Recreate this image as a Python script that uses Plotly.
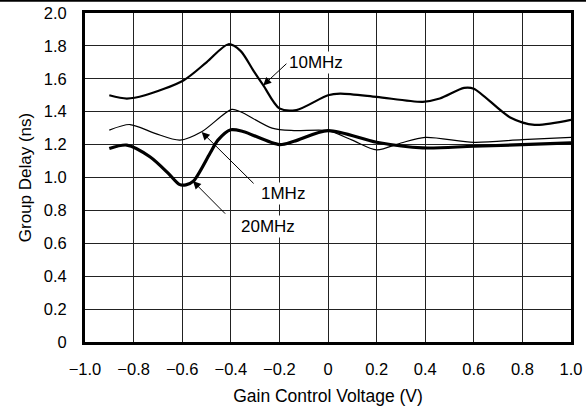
import plotly.graph_objects as go

# ---- data ----
x_10mhz = [-0.9, -0.828, -0.753, -0.595, -0.5, -0.41, -0.36, -0.307, -0.266, -0.2, -0.13, 0.0, 0.05, 0.2, 0.39, 0.46, 0.56, 0.6, 0.75, 0.85, 1.0]
y_10mhz = [1.50, 1.48, 1.50, 1.59, 1.70, 1.81, 1.77, 1.65, 1.56, 1.42, 1.41, 1.50, 1.51, 1.49, 1.46, 1.48, 1.545, 1.54, 1.365, 1.32, 1.35]

x_1mhz = [-0.9, -0.815, -0.712, -0.609, -0.52, -0.396, -0.36, -0.23, -0.14, 0.0, 0.1, 0.2, 0.3, 0.4, 0.6, 0.8, 1.0]
y_1mhz = [1.288, 1.322, 1.268, 1.227, 1.278, 1.414, 1.40, 1.30, 1.285, 1.285, 1.227, 1.168, 1.21, 1.244, 1.214, 1.23, 1.244]

x_20mhz = [-0.9, -0.828, -0.733, -0.657, -0.612, -0.585, -0.554, -0.486, -0.453, -0.4, -0.35, -0.2, -0.14, 0.0, 0.2, 0.39, 0.6, 1.0]
y_20mhz = [1.176, 1.197, 1.126, 1.025, 0.958, 0.955, 0.978, 1.146, 1.227, 1.29, 1.28, 1.20, 1.22, 1.285, 1.214, 1.18, 1.19, 1.21]

x_tickvals = [-1.0, -0.8, -0.6, -0.4, -0.2, 0, 0.2, 0.4, 0.6, 0.8, 1.0]
x_ticktext = ["\u22121.0", "\u22120.8", "\u22120.6", "\u22120.4", "\u22120.2", "0", "0.2", "0.4", "0.6", "0.8", "1.0"]
y_tickvals = [0, 0.2, 0.4, 0.6, 0.8, 1.0, 1.2, 1.4, 1.6, 1.8, 2.0]
y_ticktext = ["0", "0.2", "0.4", "0.6", "0.8", "1.0", "1.2", "1.4", "1.6", "1.8", "2.0"]

# labels: (text, label x, label y, arrow head x, head y, arrow tail x, tail y)
labels = [
    ("10MHz", -0.049, 1.697, -0.267, 1.56, -0.165, 1.70),
    ("1MHz", -0.185, 0.905, -0.52, 1.277, -0.30, 0.955),
    ("20MHz", -0.247, 0.70, -0.556, 0.978, -0.417, 0.771),
]

FONT = "Liberation Sans, Arial, Helvetica, sans-serif"

fig = go.Figure()
fig.add_trace(go.Scatter(x=x_10mhz, y=y_10mhz, mode="lines", line=dict(color="black", width=2.2, shape="spline", smoothing=0.8), name="10MHz"))
fig.add_trace(go.Scatter(x=x_1mhz, y=y_1mhz, mode="lines", line=dict(color="black", width=1.2, shape="spline", smoothing=0.8), name="1MHz"))
fig.add_trace(go.Scatter(x=x_20mhz, y=y_20mhz, mode="lines", line=dict(color="black", width=3.2, shape="spline", smoothing=0.8), name="20MHz"))

for text, lx, ly, hx, hy, tx, ty in labels:
    fig.add_annotation(x=hx, y=hy, ax=tx, ay=ty, xref="x", yref="y", axref="x", ayref="y",
                       text="", showarrow=True, arrowhead=2, arrowsize=1.6, arrowwidth=1, arrowcolor="black")
    fig.add_annotation(x=lx, y=ly, xref="x", yref="y", text=text, showarrow=False,
                       bgcolor="white", borderpad=1, font=dict(family=FONT, size=17, color="black"))

# top rule across the whole image
fig.add_shape(type="line", xref="paper", yref="paper", x0=-0.2, x1=1.05, y0=1.037, y1=1.037,
              line=dict(color="black", width=2))

fig.update_layout(
    template="none",
    width=586, height=407,
    margin=dict(l=85, r=15, t=13, b=65, autoexpand=False),
    paper_bgcolor="white", plot_bgcolor="white",
    showlegend=False,
    font=dict(family=FONT, size=16.5, color="black"),
    xaxis=dict(range=[-1.0, 1.0], tickvals=x_tickvals, ticktext=x_ticktext,
               showgrid=True, gridcolor="#222", gridwidth=1,
               showline=True, linecolor="black", linewidth=3, mirror=True,
               ticks="", ticklabelstandoff=10, zeroline=False, automargin=False,
               title=dict(text="Gain Control Voltage (V)", font=dict(size=17.5), standoff=13)),
    yaxis=dict(range=[0, 2.0], tickvals=y_tickvals, ticktext=y_ticktext,
               showgrid=True, gridcolor="#222", gridwidth=1,
               showline=True, linecolor="black", linewidth=3, mirror=True,
               ticks="", ticklabelstandoff=12, zeroline=False, automargin=False,
               title=dict(text="Group Delay (ns)", font=dict(size=17), standoff=8)),
)

fig.write_html("out.html", config={"displayModeBar": False},
               post_script="document.body.style.margin='0';document.body.style.overflow='hidden';")
